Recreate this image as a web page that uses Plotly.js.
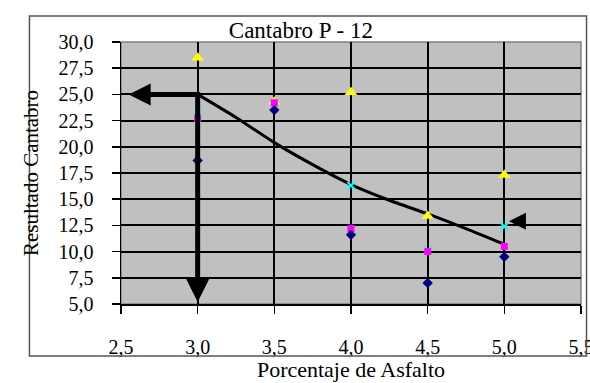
<!DOCTYPE html>
<html><head><meta charset="utf-8">
<script src="https://cdn.plot.ly/plotly-3.0.1.min.js"></script>
<style>html,body{margin:0;padding:0;background:#fff}#c{width:590px;height:383px}</style>
</head><body><div id="c"></div>
<script>
// Data
const asfalto = [3.0, 3.5, 4.0, 4.5, 5.0];
const serie1 = [18.7, 23.5, 11.6, 7.0, 9.5];    // navy diamonds
const serie2 = [22.7, 24.2, 12.2, 10.0, 10.5];  // magenta squares
const serie3 = [28.5, 24.3, 25.2, 13.4, 17.3];  // yellow triangles
const serie4 = [23.4, 23.8, 16.3, 10.1, 12.4];  // cyan crosses
const trendX = [3.0, 3.25, 3.5, 3.75, 4.0, 4.25, 4.5, 4.75, 5.0];
const trendY = [25.0, 22.8, 20.4, 18.3, 16.4, 14.9, 13.6, 12.2, 10.7];
const guideX = [2.68, 3.0, 3.0];
const guideY = [25.0, 25.0, 7.5];
const arrowLeftX = [2.55], arrowLeftY = [25.0];
const arrowDownX = [3.0], arrowDownY = [5.2];
const pointerX = [5.03], pointerY = [12.9];
const yTicks = [5, 7.5, 10, 12.5, 15, 17.5, 20, 22.5, 25, 27.5, 30];
const xTicks = [2.5, 3.0, 3.5, 4.0, 4.5, 5.0, 5.5];

const serif = "'Liberation Serif'";
const traces = [
  {x: trendX, y: trendY, mode: 'lines', line: {color: '#000', width: 3, shape: 'spline', smoothing: 0.6}, name: 'Tendencia'},
  {x: asfalto, y: serie3, mode: 'markers', marker: {symbol: 'triangle-up', color: '#FFFF00', size: 11}, name: 'Serie3'},
  {x: asfalto, y: serie4, mode: 'markers', marker: {symbol: 'x-thin', color: '#00FFFF', size: 7, line: {color: '#00FFFF', width: 2}}, name: 'Serie4'},
  {x: asfalto, y: serie2, mode: 'markers', marker: {symbol: 'square', color: '#FF00FF', size: 7}, name: 'Serie2'},
  {x: asfalto, y: serie1, mode: 'markers', marker: {symbol: 'diamond', color: '#000080', size: 8}, name: 'Serie1'},
  {x: guideX, y: guideY, mode: 'lines', line: {color: '#000', width: 5}, name: 'Guía'},
  {x: arrowLeftX, y: arrowLeftY, mode: 'markers', marker: {symbol: 'arrow-left', color: '#000', size: 22}, name: 'a1'},
  {x: arrowDownX, y: arrowDownY, mode: 'markers', marker: {symbol: 'arrow-down', color: '#000', size: 24}, name: 'a2'},
  {x: pointerX, y: pointerY, mode: 'markers', marker: {symbol: 'arrow-left', color: '#000', size: 17}, name: 'a3'}
];
const layout = {
  width: 590, height: 383,
  margin: {l: 121, r: 9, t: 42, b: 79},
  paper_bgcolor: '#fff', plot_bgcolor: '#C0C0C0',
  showlegend: false,
  separators: ', ',
  font: {family: serif, color: '#000', size: 20},
  title: {text: 'Cantabro P - 12', font: {family: serif, size: 23, color: '#000'},
          x: 0.51, xanchor: 'center', y: 0.922, yanchor: 'middle'},
  xaxis: {
    range: [2.5, 5.5001], tickvals: xTicks, tickformat: '.1f',
    showgrid: true, gridcolor: '#000', gridwidth: 2,
    showline: true, linecolor: '#000', linewidth: 1.5, mirror: false,
    ticks: 'outside', ticklen: 8, tickwidth: 1.5, tickcolor: '#000',
    ticklabelstandoff: 16, ticklabeloverflow: 'allow', zeroline: false,
    tickfont: {family: serif, size: 20},
    title: {text: 'Porcentaje de Asfalto', font: {family: serif, size: 22}, standoff: 0}
  },
  yaxis: {
    range: [5, 30], tickvals: yTicks, tickformat: '.1f',
    showgrid: true, gridcolor: '#000', gridwidth: 2,
    showline: true, linecolor: '#000', linewidth: 1.5,
    ticks: 'outside', ticklen: 8, tickwidth: 1.5, tickcolor: '#000',
    ticklabelstandoff: 14, zeroline: false,
    tickfont: {family: serif, size: 20},
    title: {text: 'Resultado Cantabro', font: {family: serif, size: 21}, standoff: 14}
  },
  shapes: [
    {type: 'rect', xref: 'paper', yref: 'paper', x0: 0, x1: 1, y0: 0, y1: 1,
     line: {color: '#808080', width: 1.5}, layer: 'below'},
    {type: 'rect', xref: 'paper', yref: 'paper', x0: -0.199, x1: 1.012, y0: -0.198, y1: 1.099,
     line: {color: '#555', width: 1.5}}
  ]
};
Plotly.newPlot('c', traces, layout, {displayModeBar: false, staticPlot: true});
</script></body></html>
